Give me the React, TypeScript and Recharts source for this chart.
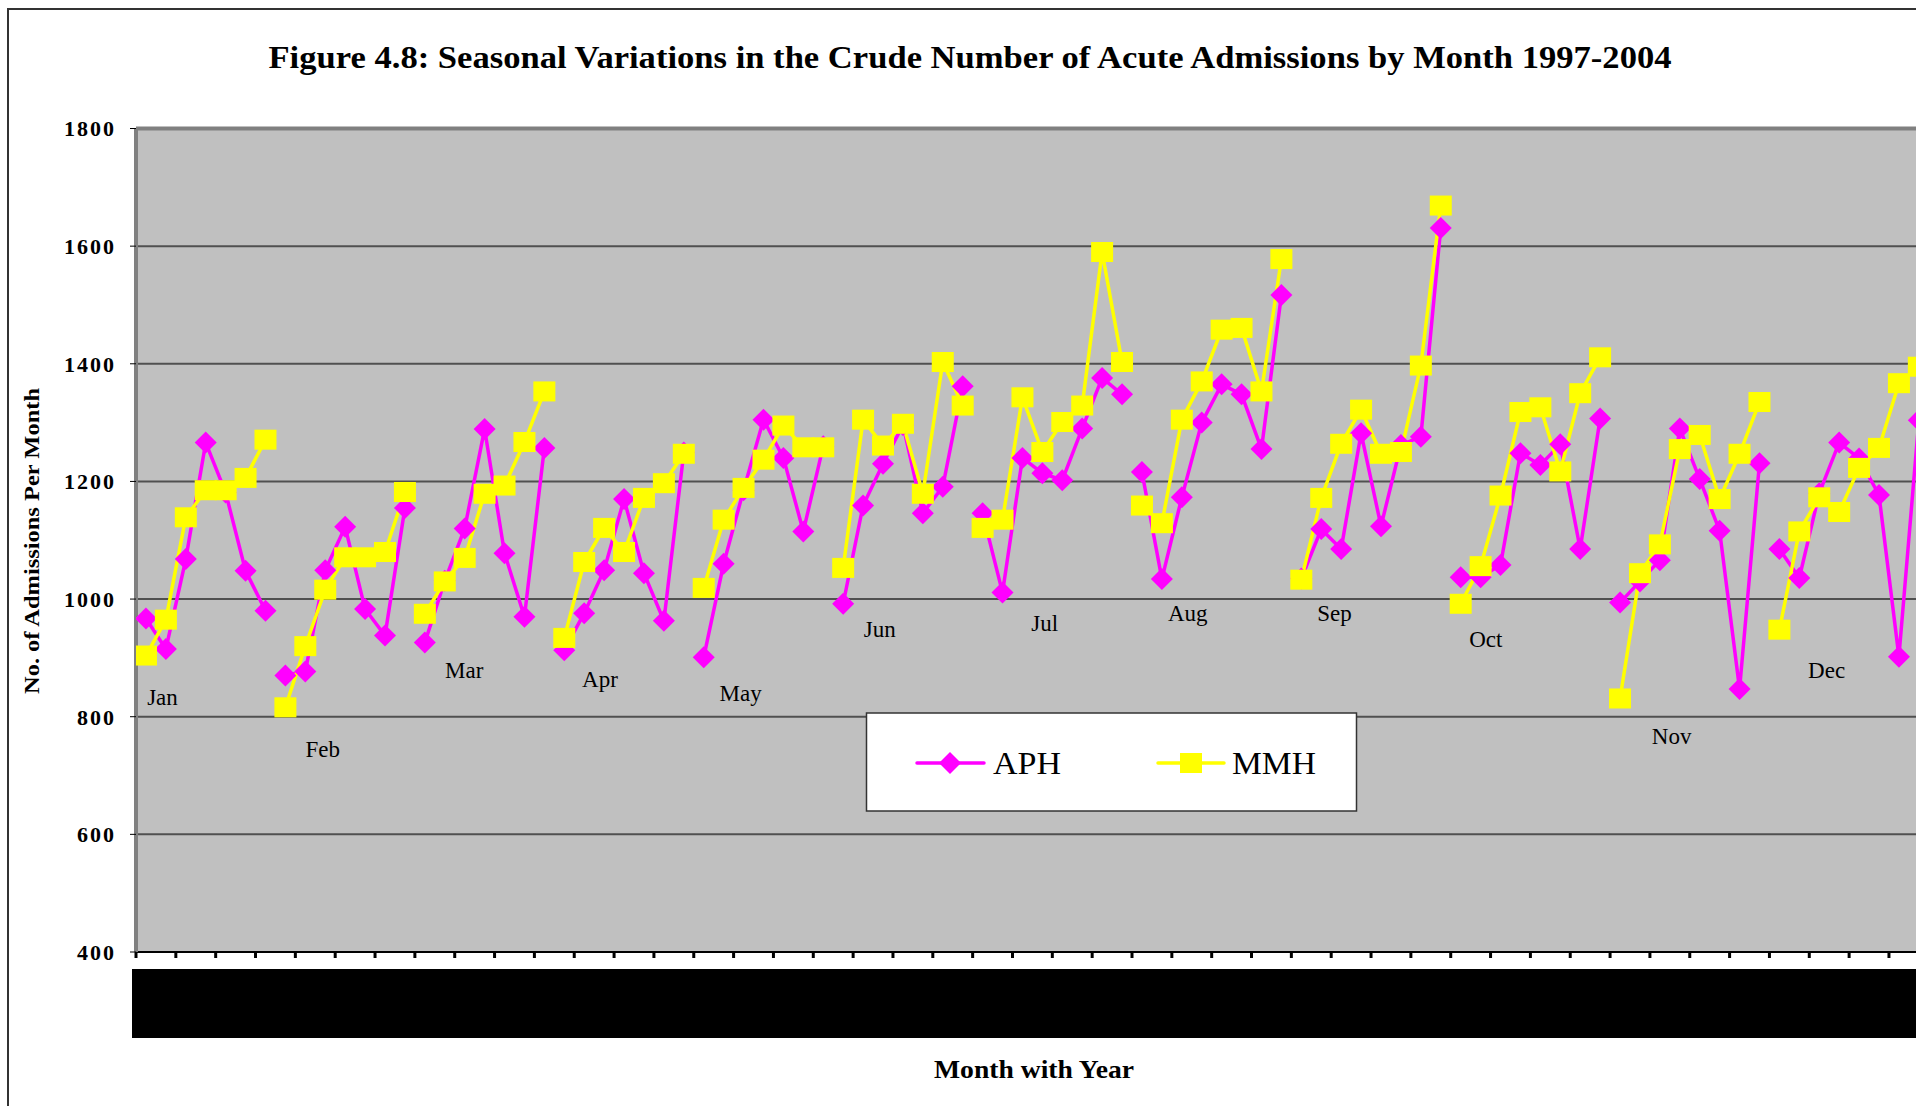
import React from 'react';
import { ComposedChart, Line, Scatter, XAxis, YAxis, CartesianGrid, ReferenceLine } from 'recharts';

// ---- data ----
const months = ['Jan', 'Feb', 'Mar', 'Apr', 'May', 'Jun', 'Jul', 'Aug', 'Sep', 'Oct', 'Nov', 'Dec'];

const aphJan = [967, 915, 1068, 1266, 1181, 1048, 980];
const aphFeb = [870, 877, 1049, 1123, 983, 938, 1155];
const aphMar = [926, 1031, 1120, 1289, 1078, 970, 1257];
const aphApr = [913, 976, 1049, 1170, 1044, 963, 1249];
const aphMay = [901, 1060, 1185, 1305, 1240, 1115, 1260];
const aphJun = [992, 1159, 1230, 1296, 1146, 1191, 1362];
const aphJul = [1146, 1011, 1240, 1214, 1202, 1290, 1376, 1348];
const aphAug = [1216, 1034, 1173, 1300, 1365, 1348, 1255, 1517];
const aphSep = [1035, 1119, 1085, 1282, 1124, 1262, 1276, 1631];
const aphOct = [1037, 1037, 1058, 1248, 1228, 1263, 1085, 1307];
const aphNov = [994, 1030, 1066, 1290, 1204, 1116, 847, 1231];
const aphDec = [1085, 1036, 1180, 1266, 1239, 1177, 902, 1304];

const mmhJan = [904, 965, 1139, 1185, 1185, 1206, 1271];
const mmhFeb = [816, 920, 1016, 1071, 1071, 1080, 1182];
const mmhMar = [975, 1030, 1070, 1179, 1193, 1267, 1353];
const mmhApr = [934, 1063, 1121, 1080, 1172, 1197, 1247];
const mmhMay = [1019, 1135, 1189, 1237, 1295, 1258, 1258];
const mmhJun = [1053, 1305, 1261, 1298, 1179, 1403, 1329];
const mmhJul = [1121, 1135, 1343, 1250, 1301, 1329, 1590, 1403];
const mmhAug = [1159, 1129, 1305, 1370, 1458, 1461, 1353, 1578];
const mmhSep = [1033, 1172, 1264, 1322, 1247, 1250, 1397, 1669];
const mmhOct = [992, 1056, 1176, 1318, 1326, 1217, 1350, 1411];
const mmhNov = [831, 1044, 1093, 1255, 1279, 1170, 1247, 1335];
const mmhDec = [948, 1115, 1173, 1148, 1223, 1257, 1367, 1395];

// month label anchor positions (in axis units)
const monthLabelX = [1.33, 9.37, 16.48, 23.29, 30.35, 37.34, 45.62, 52.8, 60.16, 67.76, 77.09, 84.87];
const monthLabelY = [832, 745, 878, 863, 840, 948, 959, 975, 975, 932, 766, 878];

const yTicks = [400, 600, 800, 1000, 1200, 1400, 1600, 1800];

const aphSeries = [aphJan, aphFeb, aphMar, aphApr, aphMay, aphJun, aphJul, aphAug, aphSep, aphOct, aphNov, aphDec];
const mmhSeries = [mmhJan, mmhFeb, mmhMar, mmhApr, mmhMay, mmhJun, mmhJul, mmhAug, mmhSep, mmhOct, mmhNov, mmhDec];

// build table: one row per month-year, null rows between months break the lines
const rows: any[] = [];
let slot = 0;
months.forEach((m, mi) => {
  if (mi > 0) rows.push({ x: slot, aph: null, mmh: null });
  aphSeries[mi].forEach((v, i) => {
    rows.push({ x: slot + 0.5, aph: v, mmh: mmhSeries[mi][i] });
    slot += 1;
  });
});
const totalSlots = slot;
const xTicks: number[] = [];
for (let t = 0; t <= totalSlots; t += 2) xTicks.push(t);

const labelRows = months.map((m, i) => ({ x: monthLabelX[i], ly: monthLabelY[i], name: m }));

// ---- layout ----
const CHART_W = 1960;
const CHART_H = 1160;
const PLOT_LEFT = 136;
const PLOT_TOP = 128.5;
const PLOT_BOTTOM = 952;
const Y_AXIS_W = 80;
const X_AXIS_H = 100;
const PLOT_W = totalSlots * 19.92;
const BAND = PLOT_W / totalSlots;

const SERIF = '"Liberation Serif", "Times New Roman", Times, serif';

const Diamond = (props: any) => {
  const { cx, cy, value, index } = props;
  if (cx == null || cy == null || value == null) return <g key={`ad-${index}`} />;
  const r = 11;
  return (
    <path
      key={`ad-${index}`}
      d={`M${cx},${cy - r}L${cx + r},${cy}L${cx},${cy + r}L${cx - r},${cy}Z`}
      fill="#FF00FF"
    />
  );
};

const Square = (props: any) => {
  const { cx, cy, value, index } = props;
  if (cx == null || cy == null || value == null) return <g key={`ms-${index}`} />;
  return <rect key={`ms-${index}`} x={cx - 11} y={cy - 10} width={22} height={20} fill="#FFFF00" />;
};

const MonthLabel = (props: any) => {
  const { cx, cy, payload } = props;
  return (
    <text x={cx} y={cy} textAnchor="middle" dominantBaseline="central" fontFamily={SERIF} fontSize={23} fill="#000">
      {payload.name}
    </text>
  );
};

const BlackTick = (props: any) => {
  const { x, y, index } = props;
  const left = index === 0 ? x - 4 : x;
  return <rect x={left} y={y + 9} width={2 * BAND + (x - left) + 1} height={69} fill="#000" />;
};

export default function App() {
  return (
    <div style={{ position: 'fixed', left: 0, top: 0, width: 1916, height: 1106, overflow: 'hidden', background: '#fff' }}>
      <div
        style={{
          position: 'absolute',
          left: 7,
          top: 8,
          width: 2100,
          height: 1300,
          border: '2px solid #333',
          boxSizing: 'border-box',
          background: '#fff',
        }}
      />
      <div style={{ position: 'absolute', left: 0, top: 0 }}>
        <ComposedChart
          width={CHART_W}
          height={CHART_H}
          data={rows}
          margin={{
            top: PLOT_TOP,
            left: PLOT_LEFT - Y_AXIS_W,
            right: CHART_W - PLOT_LEFT - PLOT_W,
            bottom: CHART_H - PLOT_BOTTOM - X_AXIS_H,
          }}
        >
          <CartesianGrid horizontal vertical={false} stroke="#505050" strokeWidth={2} fill="#C0C0C0" fillOpacity={1} />
          <XAxis
            type="number"
            dataKey="x"
            domain={[0, totalSlots]}
            ticks={xTicks}
            interval={0}
            height={X_AXIS_H}
            axisLine={{ stroke: '#000', strokeWidth: 2 }}
            tickLine={{ stroke: '#000', strokeWidth: 3 }}
            tickSize={6}
            tick={<BlackTick />}
            allowDataOverflow
          />
          <YAxis
            type="number"
            domain={[400, 1800]}
            ticks={yTicks}
            interval={0}
            width={Y_AXIS_W}
            axisLine={{ stroke: '#808080', strokeWidth: 4 }}
            tickLine={{ stroke: '#000', strokeWidth: 1 }}
            tickSize={6}
            tickMargin={14}
            tick={{ fill: '#000', fontSize: 22, fontWeight: 'bold', fontFamily: SERIF, letterSpacing: 2 }}
          />
          <ReferenceLine y={1800} stroke="#808080" strokeWidth={4} />
          <Line dataKey="aph" stroke="#FF00FF" strokeWidth={3.5} dot={false} activeDot={false} connectNulls={false} isAnimationActive={false} />
          <Line dataKey="mmh" stroke="#FFFF00" strokeWidth={3.5} dot={false} activeDot={false} connectNulls={false} isAnimationActive={false} />
          <Line dataKey="aph" stroke="none" strokeWidth={0} dot={Diamond} activeDot={false} connectNulls={false} isAnimationActive={false} />
          <Line dataKey="mmh" stroke="none" strokeWidth={0} dot={Square} activeDot={false} connectNulls={false} isAnimationActive={false} />
          <Scatter data={labelRows} dataKey="ly" shape={MonthLabel} isAnimationActive={false} />
        </ComposedChart>
      </div>
      <svg width={1916} height={1106} style={{ position: 'absolute', left: 0, top: 0, pointerEvents: 'none' }}>
        <text x={970} y={68} textAnchor="middle" fontFamily={SERIF} fontWeight="bold" fontSize={32} textLength={1403} lengthAdjust="spacingAndGlyphs" fill="#000">
          Figure 4.8: Seasonal Variations in the Crude Number of Acute Admissions by Month 1997-2004
        </text>
        <text
          x={0}
          y={0}
          transform="translate(39,541) rotate(-90)"
          textAnchor="middle"
          fontFamily={SERIF}
          fontWeight="bold"
          fontSize={22}
          textLength={306}
          lengthAdjust="spacingAndGlyphs"
          fill="#000"
        >
          No. of Admissions Per Month
        </text>
        <text x={1034} y={1078} textAnchor="middle" fontFamily={SERIF} fontWeight="bold" fontSize={26} textLength={200} lengthAdjust="spacingAndGlyphs" fill="#000">
          Month with Year
        </text>
        {/* legend */}
        <rect x={866.5} y={713} width={490} height={98} fill="#fff" stroke="#333" strokeWidth={1.5} />
        <line x1={917} y1={763} x2={984} y2={763} stroke="#FF00FF" strokeWidth={3.5} strokeLinecap="round" />
        <path d="M950,752L961,763L950,774L939,763Z" fill="#FF00FF" />
        <text x={993} y={774} fontFamily={SERIF} fontSize={31} textLength={68} lengthAdjust="spacingAndGlyphs" fill="#000">APH</text>
        <line x1={1158} y1={763} x2={1224} y2={763} stroke="#FFFF00" strokeWidth={3.5} strokeLinecap="round" />
        <rect x={1180} y={753} width={22} height={20} fill="#FFFF00" />
        <text x={1232} y={774} fontFamily={SERIF} fontSize={31} textLength={84} lengthAdjust="spacingAndGlyphs" fill="#000">MMH</text>
      </svg>
    </div>
  );
}
